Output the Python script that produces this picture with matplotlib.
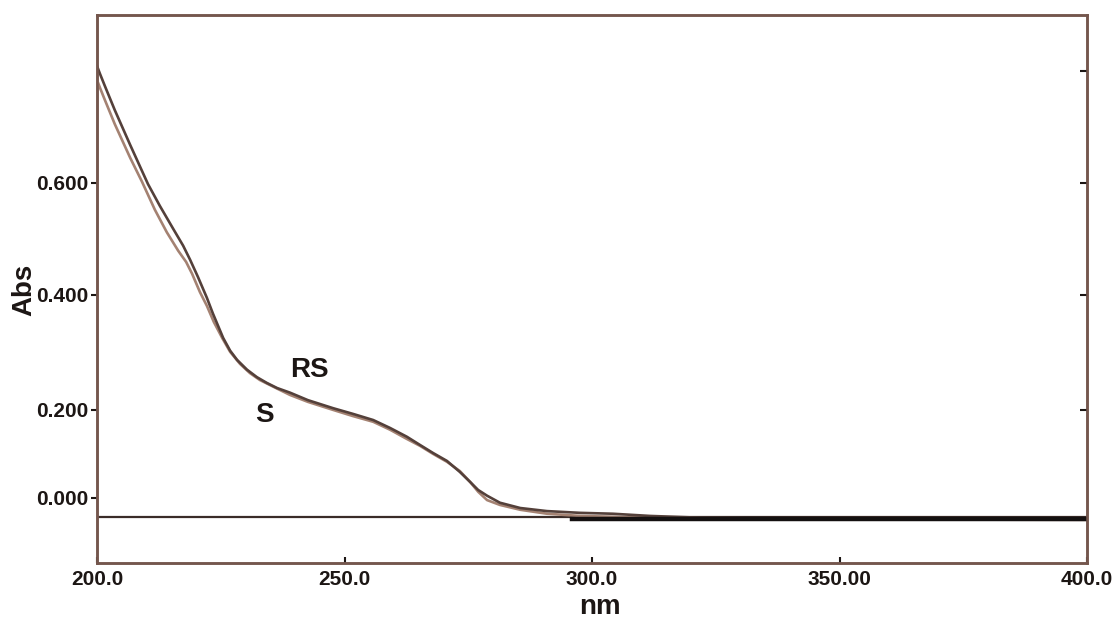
import numpy as np
import matplotlib.pyplot as plt

plt.rcParams['font.family'] = ['Liberation Sans', 'DejaVu Sans']
plt.rcParams['font.weight'] = 'bold'

# spectra (nm, Abs)
rs_nm = [200.0, 200.6, 201.6, 203.6, 206.7, 210.3, 212.7, 215.4, 217.4, 218.8,
         220.4, 222.2, 223.4, 225.5, 226.9, 228.3, 230.3, 232.3, 234.3, 236.4,
         239.0, 242.6, 247.7, 251.7, 255.8, 259.2, 262.6, 265.3, 267.9, 270.7,
         273.3, 275.4, 277.0, 278.8, 281.4, 285.5, 290.9, 297.6, 304.2, 311.7,
         321.8, 342.0, 362.2, 400.0]
rs_abs = [0.809, 0.795, 0.773, 0.730, 0.668, 0.598, 0.559, 0.518, 0.488, 0.463,
          0.432, 0.395, 0.368, 0.325, 0.303, 0.287, 0.270, 0.257, 0.247, 0.238,
          0.230, 0.217, 0.203, 0.191, 0.177, 0.159, 0.139, 0.120, 0.102, 0.084,
          0.059, 0.036, 0.018, 0.005, -0.011, -0.023, -0.030, -0.034, -0.036, -0.041,
          -0.045, -0.048, -0.048, -0.048]

s_nm = [200.0, 200.6, 201.6, 203.6, 206.7, 209.1, 211.7, 214.1, 216.4, 218.0,
        219.2, 220.8, 222.2, 223.6, 225.3, 226.9, 228.9, 230.9, 232.9, 236.4,
        239.0, 242.6, 247.7, 251.7, 255.8, 259.2, 262.6, 265.3, 267.9, 270.7,
        273.3, 275.4, 277.0, 278.8, 281.4, 285.5, 290.9, 297.6, 304.2, 311.7,
        321.8, 400.0]
s_abs = [0.784, 0.770, 0.748, 0.705, 0.645, 0.602, 0.552, 0.512, 0.479, 0.459,
         0.438, 0.405, 0.381, 0.353, 0.325, 0.301, 0.280, 0.264, 0.252, 0.237,
         0.226, 0.214, 0.200, 0.186, 0.173, 0.155, 0.134, 0.118, 0.100, 0.082,
         0.061, 0.036, 0.014, -0.005, -0.016, -0.027, -0.036, -0.041, -0.043, -0.045,
         -0.048, -0.050]

# blank / baseline trace
base_nm = [200.0, 400.0]
base_abs = [-0.043, -0.043]
noise_nm = [296.0, 400.0]
noise_abs = [-0.047, -0.047]

xticks = [200, 250, 300, 350, 400]
xtick_labels = ['200.0', '250.0', '300.0', '350.00', '400.0']
yticks_left = [0.0, 0.2, 0.4, 0.6]
ytick_labels = ['0.000', '0.200', '0.400', '0.600']
yticks_right = [0.2, 0.4, 0.6, 0.8]

# the printed Abs axis is not evenly spaced; piecewise linear scale
knot_v = np.array([-0.2, 0.0, 0.2, 0.4, 0.6, 0.8, 1.0])
knot_p = -np.array([586, 498, 410, 295, 183, 71, -41], dtype=float)

def fwd(v):
    return np.interp(v, knot_v, knot_p)

def inv(p):
    return np.interp(p, knot_p, knot_v)

spine_col = '#74564d'
txt_col = '#1c1614'

fig = plt.figure(figsize=(11.16, 6.19), dpi=100, facecolor='white')
ax = fig.add_axes([97/1116, 1-563/619, 990/1116, 548/619])
ax.set_yscale('function', functions=(fwd, inv))

ax.plot(base_nm, base_abs, color='#3a2c28', lw=1.6, zorder=2)
ax.plot(s_nm, s_abs, color='#a48272', lw=1.9, zorder=3)
ax.plot(rs_nm, rs_abs, color='#54403a', lw=1.9, zorder=4)
ax.plot(noise_nm, noise_abs, color='#141010', lw=3.2, zorder=5)

ax.set_xlim(200, 400)
ax.set_ylim(-0.148, 0.9)

ax.set_xticks(xticks)
ax.set_xticklabels(xtick_labels)
ax.set_yticks(yticks_left)
ax.set_yticklabels(ytick_labels)
ax.tick_params(axis='x', direction='in', length=4, width=1.5, color=txt_col,
               labelsize=15, labelcolor=txt_col, pad=5, top=False)
ax.tick_params(axis='y', direction='out', length=4, width=1.5, color=txt_col,
               labelsize=15, labelcolor=txt_col, pad=2, right=False)

ax2 = ax.twinx()
ax2.set_yscale('function', functions=(fwd, inv))
ax2.set_ylim(-0.148, 0.9)
ax2.set_yticks(yticks_right)
ax2.tick_params(axis='y', direction='in', length=5, width=1.5, color=txt_col,
                labelright=False)

for a in (ax, ax2):
    for sp in a.spines.values():
        sp.set_color(spine_col)
        sp.set_linewidth(1.8)

ax.set_xlabel('nm', fontsize=20, fontweight='bold', color=txt_col)
ax.xaxis.set_label_coords(0.508, -0.056)
ax.set_ylabel('Abs', fontsize=20, fontweight='bold', color=txt_col)
ax.yaxis.set_label_coords(-0.060, 0.498)

ax.text(243.0, 0.270, 'RS', fontsize=20, fontweight='bold', color=txt_col,
        ha='center', va='center')
ax.text(233.9, 0.189, 'S', fontsize=20, fontweight='bold', color=txt_col,
        ha='center', va='center')

fig.savefig('out.png', dpi=100, facecolor='white')
